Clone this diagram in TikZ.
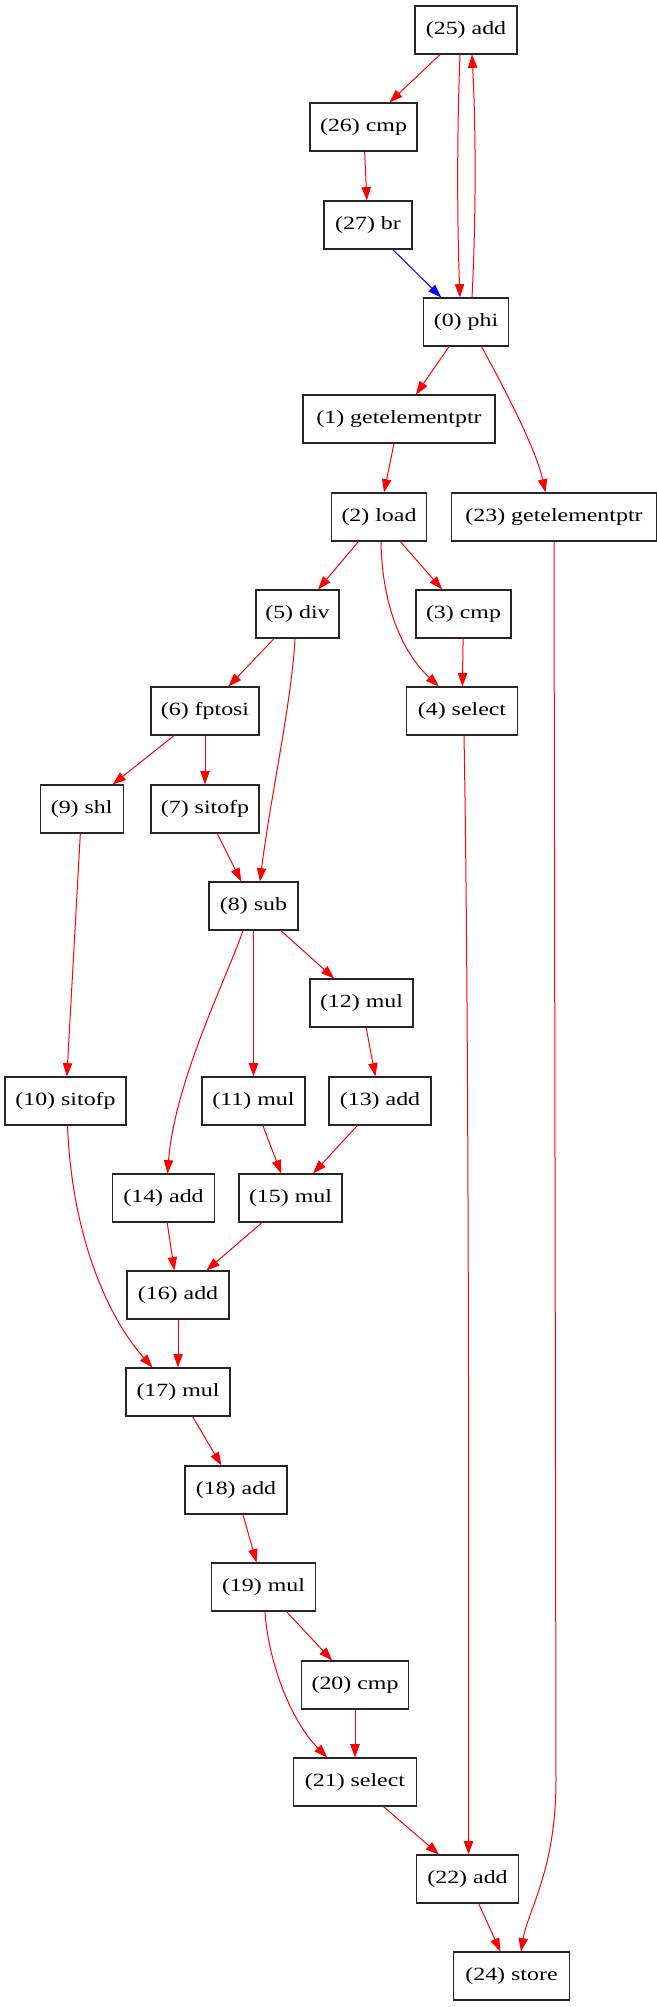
\documentclass[tikz,border=0pt]{standalone}
\usepackage{fontspec}
\setmainfont[FakeStretch=1.28]{Liberation Serif}
\usetikzlibrary{arrows.meta,calc}
\begin{document}
\begin{tikzpicture}[x=0.75pt,y=-0.75pt,
  box/.style={draw=black!85, line width=0.8pt, rectangle, minimum height=36pt, inner xsep=2pt, inner ysep=0pt, font=\fontsize{14pt}{16pt}\selectfont},
  e/.style={draw=red, line width=0.75pt, -{Triangle[length=10pt,width=7pt]}},
  eb/.style={e, draw=blue}]
\useasboundingbox (0,0) rectangle (657,2007);
\node[box, minimum width=76.5pt]  (n25) at (466,30)   {(25) add};
\node[box, minimum width=80.25pt] (n26) at (363.5,127) {(26) cmp};
\node[box, minimum width=66pt]    (n27) at (368,225)  {(27) br};
\node[box, minimum width=63.75pt] (n0)  at (466,322)  {(0) phi};
\node[box, minimum width=144pt]   (n1)  at (399,419)  {(1) getelementptr};
\node[box, minimum width=71.6pt]  (n2)  at (379,517)  {(2) load};
\node[box, minimum width=153.4pt] (n23) at (554,517)  {(23) getelementptr};
\node[box, minimum width=62.25pt] (n5)  at (297.5,614) {(5) div};
\node[box, minimum width=71.25pt] (n3)  at (463.5,614) {(3) cmp};
\node[box, minimum width=81pt]    (n6)  at (205,711)  {(6) fptosi};
\node[box, minimum width=83.25pt] (n4)  at (462,711)  {(4) select};
\node[box, minimum width=62.5pt]  (n9)  at (81.7,809) {(9) shl};
\node[box, minimum width=81pt]    (n7)  at (205,809)  {(7) sitofp};
\node[box, minimum width=66.75pt] (n8)  at (253.5,906) {(8) sub};
\node[box, minimum width=77.25pt] (n12) at (361.5,1003) {(12) mul};
\node[box, minimum width=90.75pt] (n10) at (65.5,1101) {(10) sitofp};
\node[box, minimum width=77.25pt] (n11) at (253.5,1101) {(11) mul};
\node[box, minimum width=76.5pt]  (n13) at (380,1101) {(13) add};
\node[box, minimum width=76.5pt]  (n14) at (163.5,1198) {(14) add};
\node[box, minimum width=77.25pt] (n15) at (290.5,1198) {(15) mul};
\node[box, minimum width=76.5pt]  (n16) at (178,1295) {(16) add};
\node[box, minimum width=78pt]    (n17) at (178,1392) {(17) mul};
\node[box, minimum width=76.5pt]  (n18) at (236,1490) {(18) add};
\node[box, minimum width=77.6pt]  (n19) at (263.5,1587) {(19) mul};
\node[box, minimum width=80.6pt]  (n20) at (355,1685) {(20) cmp};
\node[box, minimum width=92.25pt] (n21) at (355,1782) {(21) select};
\node[box, minimum width=76.5pt]  (n22) at (467.5,1879) {(22) add};
\node[box, minimum width=87pt]    (n24) at (511.5,1976) {(24) store};
% straight edges
\draw[e] (n25) -- (n26);
\draw[e] (n26) -- (n27);
\draw[eb] (n27) -- (n0);
\draw[e] (n0) -- (n1);
\draw[e] (n1) -- (n2);
\draw[e] (n2) -- (n5);
\draw[e] (n2) -- (n3);
\draw[e] (n3) -- (n4);
\draw[e] (n5) -- (n6);
\draw[e] (n6) -- (n9);
\draw[e] (n6) -- (n7);
\draw[e] (n7) -- (n8);
\draw[e] (n9) -- (n10);
\draw[e] (n8) -- (n12);
\draw[e] (n8) -- (n11);
\draw[e] (n12) -- (n13);
\draw[e] (n11) -- (n15);
\draw[e] (n13) -- (n15);
\draw[e] (n14) -- (n16);
\draw[e] (n15) -- (n16);
\draw[e] (n16) -- (n17);
\draw[e] (n17) -- (n18);
\draw[e] (n18) -- (n19);
\draw[e] (n19) -- (n20);
\draw[e] (n20) -- (n21);
\draw[e] (n21) -- (n22);
\draw[e] (n22) -- (n24);
% curved edges
\draw[e] ($(n25.south)+(-6,0)$) .. controls (457,130) and (457,220) .. ($(n0.north)+(-6,0)$);
\draw[e] ($(n0.north)+(6,0)$) .. controls (476,220) and (476,130) .. ($(n25.south)+(6,0)$);
\draw[e] ($(n0.south)+(15.5,0)$) .. controls (497,375) and (535,445) .. ($(n23.north)+(-8.5,0)$);
\draw[e] ($(n2.south)+(2,0)$) .. controls (382,610) and (405,655) .. ($(n4.north)+(-23,0)$);
\draw[e] (n23.south) -- (556,1780) .. controls (556,1870) and (528,1910) .. ($(n24.north)+(9.5,0)$);
\draw[e] ($(n4.south)+(2,0)$) .. controls (469,1000) and (469,1600) .. ($(n22.north)+(1,0)$);
\draw[e] ($(n5.south)+(-2.5,0)$) .. controls (292,700) and (270,800) .. ($(n8.north)+(6.5,0)$);
\draw[e] ($(n8.south)+(-10.5,0)$) .. controls (228,975) and (175,1080) .. ($(n14.north)+(4,0)$);
\draw[e] ($(n10.south)+(2,0)$) .. controls (72,1240) and (110,1320) .. ($(n17.north)+(-25.5,0)$);
\draw[e] ($(n19.south)+(1.5,0)$) .. controls (268,1660) and (290,1720) .. ($(n21.north)+(-27.7,0)$);
\end{tikzpicture}
\end{document}
